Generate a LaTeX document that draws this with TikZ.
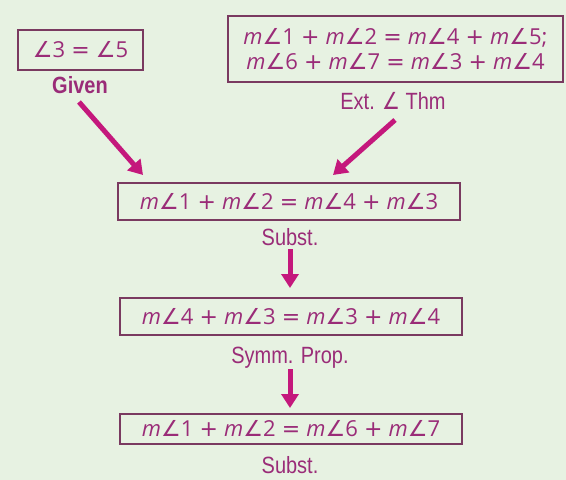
\documentclass[tikz,border=0pt]{standalone}
\usepackage{fontspec}
\usepackage{graphicx}
\setmainfont{Open Sans}
\newfontfamily\angfont{DejaVu Sans}
\newfontfamily\lblfont{Liberation Sans}
\usetikzlibrary{arrows.meta}
\definecolor{bg}{HTML}{E7F2E2}
\definecolor{txt}{HTML}{9A2C78}
\definecolor{brd}{HTML}{7A3A60}
\definecolor{arr}{HTML}{C4187C}
\newcommand{\ang}{{\angfont\char"2220}}
\newcommand{\mm}{\textit{m}}
\newcommand{\pl}{\hspace{0.28em}{\angfont +}\hspace{0.28em}}
\newcommand{\eq}{\hspace{0.28em}{\angfont =}\hspace{0.28em}}
\newcommand{\lbl}[1]{\scalebox{0.85}[1]{\lblfont #1}}
\tikzset{
  eqbox/.style={draw=brd, line width=1.5pt, text=txt, font=\fontsize{22}{25}\selectfont, inner sep=0pt, rectangle},
  lab/.style={text=txt, font=\fontsize{23.5}{26}\selectfont, inner sep=0pt},
  arrw/.style={draw=arr, line width=5pt, -{Triangle[length=14pt,width=17pt]}}
}
\begin{document}
\begin{tikzpicture}[x=1pt,y=-1pt]
\fill[bg] (0,0) rectangle (566,480);
\useasboundingbox (0,0) rectangle (566,480);
\node[eqbox, minimum width=125pt, minimum height=40pt] (b1) at (80.5,50) {\ang3\eq\ang5};
\node[lab] (l1) at (80,85) {\lbl{\bfseries Given}};
\node[eqbox, minimum width=335pt, minimum height=66pt, align=center] (b2) at (395.5,49) {\mm\ang1\pl\mm\ang2\eq\mm\ang4\pl\mm\ang5;\\ \mm\ang6\pl\mm\ang7\eq\mm\ang3\pl\mm\ang4};
\node[lab] (l2) at (393,101) {\lbl{Ext. \ang\ Thm}};
\node[eqbox, minimum width=342pt, minimum height=37pt] (b3) at (289,201.5) {\mm\ang1\pl\mm\ang2\eq\mm\ang4\pl\mm\ang3};
\node[lab] (l3) at (290,237) {\lbl{Subst.}};
\node[eqbox, minimum width=342pt, minimum height=37pt] (b4) at (291,316.5) {\mm\ang4\pl\mm\ang3\eq\mm\ang3\pl\mm\ang4};
\node[lab] (l4) at (290,358) {\lbl{Symm. Prop.}};
\node[eqbox, minimum width=342pt, minimum height=30pt] (b5) at (291,429) {\mm\ang1\pl\mm\ang2\eq\mm\ang6\pl\mm\ang7};
\node[lab] (l5) at (290,465) {\lbl{Subst.}};
\coordinate (a1s) at (79,102); \coordinate (a1e) at (143,175);
\coordinate (a2s) at (395,120); \coordinate (a2e) at (333,175);
\coordinate (a3s) at (290,249); \coordinate (a3e) at (290,288);
\coordinate (a4s) at (290,369); \coordinate (a4e) at (290,408);
\draw[arrw] (a1s) -- (a1e);
\draw[arrw] (a2s) -- (a2e);
\draw[arrw] (a3s) -- (a3e);
\draw[arrw] (a4s) -- (a4e);
\end{tikzpicture}
\end{document}
